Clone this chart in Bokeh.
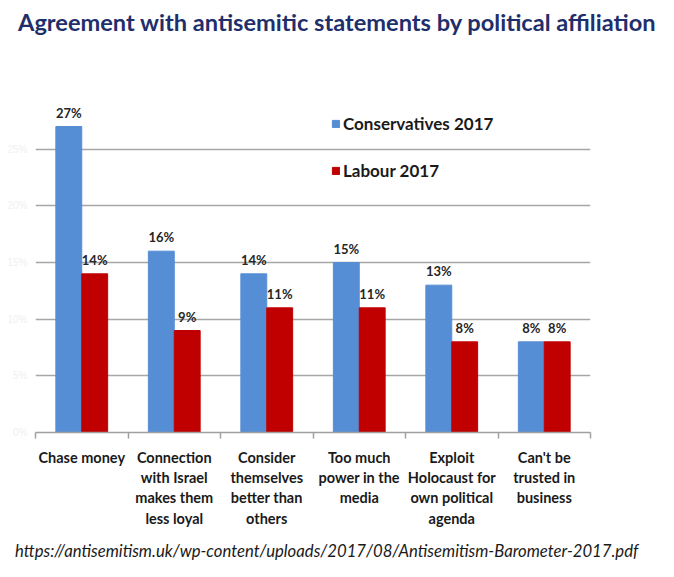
from bokeh.plotting import figure
from bokeh.models import (Range1d, FixedTicker, ColumnDataSource, LabelSet, Div,
                          PrintfTickFormatter)
from bokeh.layouts import column
from bokeh.core.properties import value
from bokeh.embed import file_html
from bokeh.resources import INLINE

title_text = "Agreement with antisemitic statements by political affiliation"
source_text = "https://antisemitism.uk/wp-content/uploads/2017/08/Antisemitism-Barometer-2017.pdf"
categories = ["Chase money",
              "Connection\nwith Israel\nmakes them\nless loyal",
              "Consider\nthemselves\nbetter than\nothers",
              "Too much\npower in the\nmedia",
              "Exploit\nHolocaust for\nown political\nagenda",
              "Can't be\ntrusted in\nbusiness"]
conservatives = [27, 16, 14, 15, 13, 8]
labour = [14, 9, 11, 11, 8, 8]
series_names = ["Conservatives 2017", "Labour 2017"]
y_ticks = [0, 5, 10, 15, 20, 25]

BLUE = "#558ED5"
RED = "#C00000"
FONT = "Lato"

n = len(categories)
centers = [i + 0.5 for i in range(n)]
bw = 0.28
src_c = ColumnDataSource(dict(x=[c - bw / 2 for c in centers], y=conservatives,
                              t=[f"{v}%" for v in conservatives]))
src_l = ColumnDataSource(dict(x=[c + bw / 2 for c in centers], y=labour,
                              t=[f"{v}%" for v in labour]))

W = 658
TITLE_H, FOOT_H = 70, 19
FIG_H = 561 - TITLE_H - FOOT_H

p = figure(width=W, height=FIG_H, output_backend="svg", toolbar_location=None,
           x_range=Range1d(0, n), y_range=Range1d(0, 30),
           min_border_left=35, min_border_right=68, min_border_top=22,
           min_border_bottom=FIG_H - 22 - 340, margin=0)
p.outline_line_color = None
p.background_fill_color = "white"
p.border_fill_color = "white"

p.vbar(x="x", top="y", width=bw, source=src_c, color=BLUE, legend_label=series_names[0])
p.vbar(x="x", top="y", width=bw, source=src_l, color=RED, legend_label=series_names[1])

for s in (src_c, src_l):
    p.add_layout(LabelSet(x="x", y="y", text="t", source=s, y_offset=6,
                          text_align="center", text_baseline="bottom",
                          text_font=value(FONT), text_font_style="bold",
                          text_font_size="13px", text_color="#262626"))

# x axis
xa = p.xaxis[0]
xa.ticker = FixedTicker(ticks=centers, minor_ticks=list(range(n + 1)))
xa.major_label_overrides = {c: lab for c, lab in zip(centers, categories)}
xa.major_tick_line_color = None
xa.minor_tick_line_color = "#a0a0a0"
xa.minor_tick_line_width = 1.5
xa.minor_tick_out = 6
xa.minor_tick_in = 0
xa.axis_line_color = "#a0a0a0"
xa.axis_line_width = 1.5
xa.major_label_text_font = FONT
xa.major_label_text_font_style = "bold"
xa.major_label_text_font_size = "14.5px"
xa.major_label_text_color = "#1a1a1a"
xa.major_label_standoff = 10
xa.major_label_orientation = "horizontal"

# y axis (faint)
ya = p.yaxis[0]
ya.ticker = FixedTicker(ticks=y_ticks)
ya.formatter = PrintfTickFormatter(format="%d%%")
ya.axis_line_color = None
ya.major_tick_line_color = None
ya.minor_tick_line_color = None
ya.major_label_text_color = "#f0f0f0"
ya.major_label_text_font_size = "10px"
ya.major_label_standoff = 2

p.xgrid.grid_line_color = None
p.ygrid.ticker = FixedTicker(ticks=y_ticks[1:])
p.ygrid.grid_line_color = "#a6a6a6"
p.ygrid.grid_line_width = 1.5

# legend
lg = p.legend[0]
lg.location = (296, 251)
lg.orientation = "vertical"
lg.border_line_color = None
lg.background_fill_alpha = 0
lg.padding = 0
lg.margin = 0
lg.glyph_width = 9
lg.glyph_height = 9
lg.label_height = 20
lg.spacing = 26
lg.label_standoff = 3
lg.label_text_font = FONT
lg.label_text_font_style = "bold"
lg.label_text_font_size = "17px"
lg.label_text_color = "#1a1a1a"

title_div = Div(
    text=(f'<div style="position:relative;top:8px;left:18px;white-space:nowrap;'
          f'font-family:Lato;font-weight:bold;font-size:23.6px;line-height:28px;'
          f'color:#1F2F6B">{title_text}</div>'),
    width=W, height=TITLE_H, margin=0)
foot_div = Div(
    text=(f'<div style="position:relative;top:0px;left:15px;white-space:nowrap;'
          f'font-family:Lato;font-style:italic;font-size:16.7px;line-height:19px;'
          f'color:#1a1a1a">{source_text}</div>'),
    width=W, height=FOOT_H, margin=0)

layout = column(title_div, p, foot_div, spacing=0, margin=0)

open("out.html", "w").write(file_html(layout, INLINE))
